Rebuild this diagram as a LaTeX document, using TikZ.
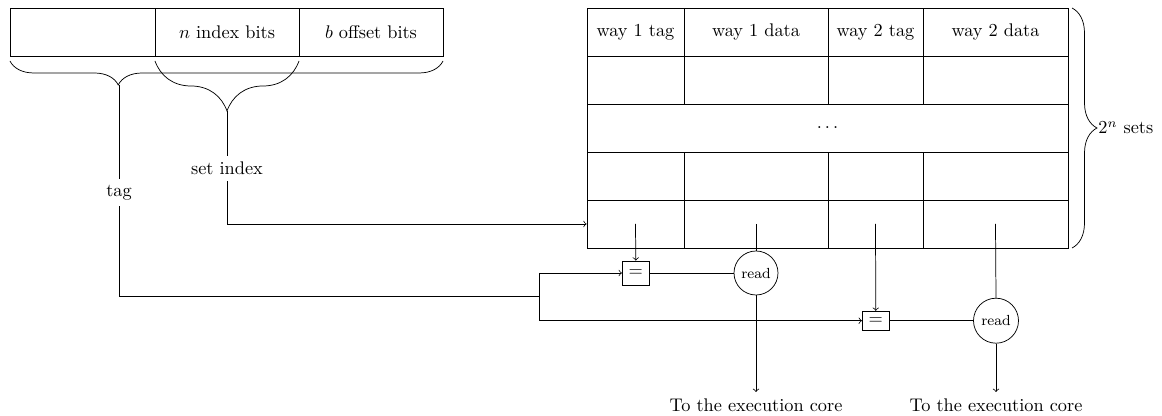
\documentclass[tikz,border=0pt]{standalone}
\usetikzlibrary{decorations.pathreplacing}
\newcommand{\PX}{0.5464pt}
\tikzset{
  cell/.style={draw, inner sep=0pt, minimum height={48*\PX}},
  cmpbox/.style={draw, inner sep=0pt, minimum width={27*\PX}},
  readnode/.style={draw, circle, inner sep=0pt, font=\footnotesize},
  lbl/.style={inner sep=3.33pt},
  arr/.style={->},
}
\begin{document}
\begin{tikzpicture}[x=0.5464pt, y=-0.5464pt]
\useasboundingbox (0,0) rectangle (1162,416);

% address
\node[cell, minimum width={145*\PX}] (a1) at (82.5,32) {};
\node[cell, minimum width={144*\PX}] (a2) at (227,32) {$n$ index bits};
\node[cell, minimum width={144*\PX}] (a3) at (371,32) {$b$ offset bits};

% braces under address
\draw[decorate, decoration={brace, mirror, amplitude=13.11pt, aspect=0.25}] (10,61) -- (443,61);
\draw[decorate, decoration={brace, mirror, amplitude=27.32pt}] (155,61) -- (299,61);
\coordinate (tip1) at (119,85);
\coordinate (tip2) at (227,111);

% cache table
\foreach \r/\y in {1/32,2/80,4/176,5/224}{
  \node[cell, minimum width={97*\PX}]  (r\r c1) at (635.5,\y) {};
  \node[cell, minimum width={144*\PX}] (r\r c2) at (756,\y) {};
  \node[cell, minimum width={95*\PX}]  (r\r c3) at (875.5,\y) {};
  \node[cell, minimum width={145*\PX}] (r\r c4) at (995.5,\y) {};
}
\node at (r1c1) {way 1 tag};
\node at (r1c2) {way 1 data};
\node at (r1c3) {way 2 tag};
\node at (r1c4) {way 2 data};
\node[cell, minimum width={481*\PX}] (r3) at (827.5,128) {$\dots$};

% right brace
\draw[decorate, decoration={brace, amplitude=13.66pt}] (1072,8) -- (1072,248);
\node[anchor=west, inner sep=0pt] (sets) at (1098,128) {$2^n$ sets};

% labels
\node[lbl] (taglbl) at (119,192.5) {tag};
\node[lbl] (setlbl) at (227,168.5) {set index};

% comparators and reads
\node[cmpbox, minimum height={24*\PX}] (c1) at (635.8,273) {$=$};
\node[cmpbox, minimum height={19*\PX}] (c2) at (875.8,320.7) {$=$};
\node[readnode, minimum size={44*\PX}] (rd1) at (756,273) {read};
\node[readnode, minimum size={45*\PX}] (rd2) at (996,320.7) {read};

\node[anchor=north, lbl] (out1) at (756,392) {To the execution core};
\node[anchor=north, lbl] (out2) at (996,392) {To the execution core};

\coordinate (jt) at (539,296);
\coordinate (j1) at (539,273);
\coordinate (j2) at (539,320.7);

% connectors
\draw (tip1) -- (taglbl);
\draw (taglbl) |- (jt);
\draw (j1) -- (j2);
\draw[arr] (j1) -- (c1.west);
\draw[arr] (j2) -- (c2.west);

\draw (tip2) -- (setlbl);
\draw[arr] (setlbl) |- (r5c1.west);

\draw[arr] (r5c1.center) -- (c1.north);
\draw[arr] (r5c3.center) -- (c2.north);
\draw (r5c2.center) -- (rd1.north);
\draw (r5c4.center) -- (rd2.north);
\draw (c1.east) -- (rd1.west);
\draw (c2.east) -- (rd2.west);
\draw[arr] (rd1.south) -- (out1.north);
\draw[arr] (rd2.south) -- (out2.north);
\end{tikzpicture}
\end{document}
